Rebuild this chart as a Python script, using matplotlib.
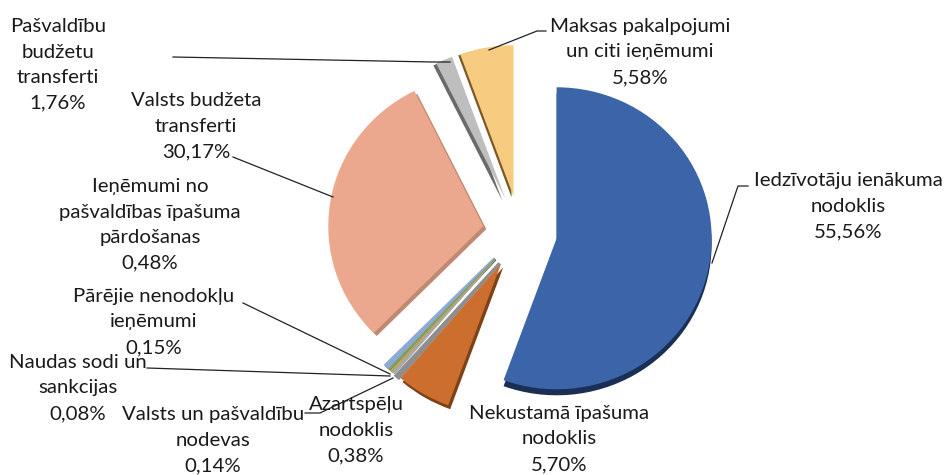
import matplotlib
matplotlib.use("Agg")
import matplotlib.pyplot as plt

plt.rcParams['font.family'] = ['Lato', 'DejaVu Sans']

values = [55.56, 5.70, 0.38, 0.14, 0.08, 0.15, 0.48, 30.17, 1.76, 5.58]
names = ["Iedzīvotāju ienākuma\nnodoklis", "Nekustamā īpašuma\nnodoklis", "Azartspēļu\nnodoklis",
         "Valsts un pašvaldību\nnodevas", "Naudas sodi un\nsankcijas", "Pārējie nenodokļu\nieņēmumi",
         "Ieņēmumi no\npašvaldības īpašuma\npārdošanas", "Valsts budžeta\ntransferti",
         "Pašvaldību\nbudžetu\ntransferti", "Maksas pakalpojumi\nun citi ieņēmumi"]
colors = ["#3C64A8", "#CB6E2E", "#A8A8A8", "#D9A820", "#5E8FC0", "#7FA850", "#8FA9D6", "#EBA88E", "#BEBEBE", "#F7CB80"]
side_colors = ["#1B2F55", "#7D4218", "#8E8E8E", "#8A6A10", "#3A5A80", "#4F6A30", "#6A80A8", "#C08A72", "#6A6A6A", "#7A5A28"]

W, H = 945, 475
CX, CY, SX, SY = 520, 232, 155, 151
explode = [0.24] * len(values)
side_shift = [(0, -6), (2, -4), (4, -4), (1, -1), (1, -1), (1, -1), (1, -1), (3, -3), (-3, -2), (-2, -1)]
side_lw = [0, 0, 2.2, 0.6, 0.6, 0.6, 1.0, 0, 0, 0]
top_lw = [0, 0, 0.6, 0.7, 0.5, 0.7, 1.0, 0, 0, 0]

fig = plt.figure(figsize=(W / 100, H / 100), dpi=100, facecolor="white")
ax = fig.add_axes([0, 0, 1, 1])
sides, _ = ax.pie(values, explode=explode, startangle=90, counterclock=False, colors=side_colors,
                  wedgeprops=dict(linewidth=0))
for w, (dx, dy), lw, c in zip(sides, side_shift, side_lw, side_colors):
    cx, cy = w.center
    w.set_center((cx + dx / SX, cy + dy / SY))
    w.set_zorder(1)
    w.set_linewidth(lw)
    w.set_edgecolor(c)
tops, _ = ax.pie(values, explode=explode, startangle=90, counterclock=False, colors=colors,
                 wedgeprops=dict(linewidth=0))
for w, lw, c in zip(tops, top_lw, colors):
    w.set_zorder(2)
    w.set_linewidth(lw)
    w.set_edgecolor(c)
ax.set_aspect("auto")
ax.set_xlim(-CX / SX, (W - CX) / SX)
ax.set_ylim(-(H - CY) / SY, CY / SY)

ov = fig.add_axes([0, 0, 1, 1], facecolor="none")
ov.set_xlim(0, W)
ov.set_ylim(H, 0)
ov.axis("off")

label_pos = [(848, 206), (559, 439), (356, 430), (213, 440), (78, 388), (154, 322),
             (150, 225), (196, 126), (58, 65), (640, 52)]
for name, v, (x, y) in zip(names, values, label_pos):
    txt = f"{name}\n{v:.2f}%".replace(".", ",")
    ov.text(x, y, txt, ha="center", va="center", fontsize=14.7, color="#1a1a1a", linespacing=1.6, zorder=3)

leaders = [
    [(173, 57), (433, 62), (450, 62)],
    [(489, 50), (537, 31), (546, 31)],
    [(712, 263), (738, 186), (748, 186)],
    [(233, 157), (333, 197)],
    [(243, 303), (390, 374)],
    [(147, 368), (390, 376)],
    [(305, 413), (320, 413), (393, 378)],
]
for pts in leaders:
    ov.plot([p[0] for p in pts], [p[1] for p in pts], color="#222222", lw=0.9, zorder=4)

fig.savefig("out.png", dpi=100)
